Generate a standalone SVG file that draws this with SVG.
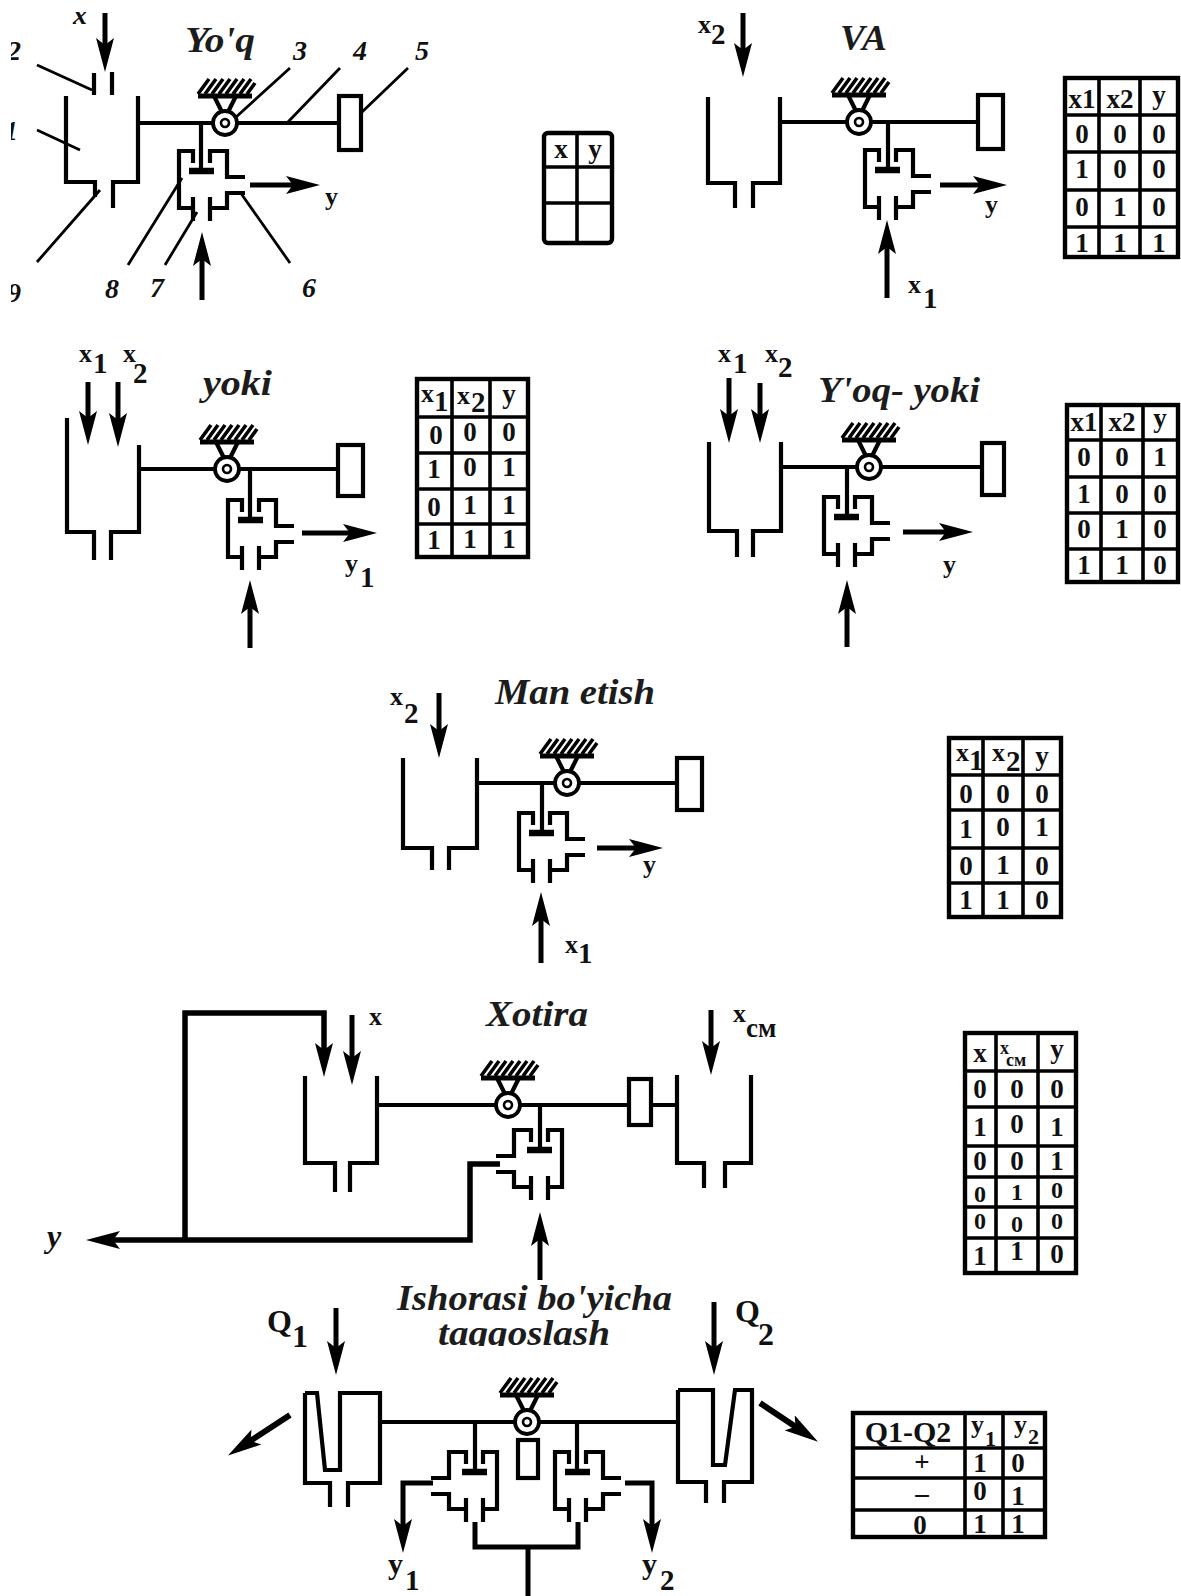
<svg xmlns="http://www.w3.org/2000/svg" width="1181" height="1596" viewBox="0 0 1181 1596">
<style>
.ln{fill:none;stroke:#000;stroke-width:4.2;stroke-linecap:butt;stroke-linejoin:miter}
.th{fill:none;stroke:#000;stroke-width:2.8}
.ar{fill:none;stroke:#000;stroke-width:5;marker-end:url(#head)}
.tb{fill:#fff;stroke:#000;stroke-width:4.4}
.tl{fill:none;stroke:#000;stroke-width:3.6}
.ti{font:italic bold 35px "Liberation Serif",serif;fill:#1c1c1c}
.n{font:italic bold 28px "Liberation Serif",serif;fill:#111}
.lb{font:bold 26px "Liberation Serif",serif;fill:#111}
.sb{font:bold 29px "Liberation Serif",serif;fill:#111}
.c{font:bold 27px "Liberation Serif",serif;fill:#111;text-anchor:middle}
</style>
<defs>
<marker id="head" markerUnits="userSpaceOnUse" markerWidth="34" markerHeight="20" viewBox="0 0 34 20" refX="22" refY="10" orient="auto">
<path d="M34,10 L0,1 L7,10 L0,19 Z" fill="#000"/>
</marker>
<g id="pivot">
<path class="ln" style="stroke-width:5" d="M-27,-27 H27"/>
<path class="th" style="stroke-width:3.6" d="M-27,-29 L-16,-44 M-20,-29 L-9,-44 M-13,-29 L-2,-44 M-6,-29 L5,-44 M1,-29 L12,-44 M8,-29 L19,-44 M15,-29 L26,-44 M22,-29 L30,-40"/>
<path class="ln" d="M-11,-27 L-3,-11 M11,-27 L3,-11"/>
<circle r="12" fill="#fff" stroke="#000" stroke-width="3.8"/>
<circle r="4" fill="#fff" stroke="#000" stroke-width="2.6"/>
</g>
<g id="valve">
<path class="ln" d="M-22,28 V0 H-8 V12 M9,12 V0 H26 V26 H44 M-22,28 V57 H-8 M-8,46 V70 M9,46 V70 M9,57 H26 V42 H44"/>
<path class="ln" style="stroke-width:6.5" d="M-12,20 H13"/>
</g>
</defs>
<rect width="1181" height="1596" fill="#fff"/>

<g id="yoq">
<path class="ln" d="M66,96 V182 H95 V197 M138,96 V182 H113 V208 M94,73 V95 M112,72 V95"/>
<path class="ln" d="M140,123 H245 M245,123 H339"/>
<rect class="ln" x="339" y="96" width="22" height="54"/>
<path class="ln" d="M201,123 V170"/>
<use href="#pivot" x="225" y="123"/>
<use href="#valve" x="201" y="151"/>
<text class="ti" x="185" y="52" textLength="70" lengthAdjust="spacingAndGlyphs">Yo'q</text>
<text class="n" x="7" y="60">2</text><text class="n" x="4" y="140">1</text><text class="n" x="7" y="302">9</text>
<text class="n" x="293" y="60">3</text><text class="n" x="353" y="60">4</text><text class="n" x="415" y="60">5</text>
<text class="n" x="302" y="297">6</text><text class="n" x="150" y="297">7</text><text class="n" x="105" y="298">8</text>
<text class="n" x="73" y="24">x</text>
<text class="lb" x="325" y="205">y</text>
</g>
<g id="table-yoq">
<rect class="tb" x="544" y="133" width="68" height="110" rx="4"/>
<path class="tl" d="M577,133 V243 M544,167 H612 M544,203 H612"/>
<text class="c" x="561" y="158">x</text><text class="c" x="595" y="158">y</text>
</g>

<g id="va">
<path class="ln" d="M708,97 V183 H735 V208 M780,97 V183 H753 V208"/>
<path class="ln" d="M782,122 H978"/>
<rect class="ln" x="978" y="95" width="25" height="54"/>
<path class="ln" d="M888,122 V170"/>
<use href="#pivot" x="859" y="122"/>
<use href="#valve" x="887" y="150"/>
<text class="ti" x="840" y="50" textLength="47" lengthAdjust="spacingAndGlyphs">VA</text>
<text class="lb" x="698" y="33">x<tspan class="sb" x="711" y="44">2</tspan></text>
<text class="lb" x="908" y="293">x<tspan class="sb" x="923" y="308">1</tspan></text>
<text class="lb" x="985" y="213">y</text>
</g>
<g id="table-va">
<rect class="tb" x="1065" y="78" width="113" height="179"/>
<path class="tl" d="M1099,78 V257 M1140,78 V257 M1065,115 H1178 M1065,152 H1178 M1065,190 H1178 M1065,227 H1178"/>
<text class="c" x="1082" y="108">x1</text><text class="c" x="1120" y="108">x2</text><text class="c" x="1159" y="104">y</text>
<text class="c" x="1082" y="143">0</text><text class="c" x="1120" y="143">0</text><text class="c" x="1159" y="143">0</text>
<text class="c" x="1082" y="178">1</text><text class="c" x="1120" y="178">0</text><text class="c" x="1159" y="178">0</text>
<text class="c" x="1082" y="216">0</text><text class="c" x="1120" y="216">1</text><text class="c" x="1159" y="216">0</text>
<text class="c" x="1082" y="252">1</text><text class="c" x="1120" y="252">1</text><text class="c" x="1159" y="252">1</text>
</g>

<g id="yoki">
<path class="ln" d="M67,418 V532 H94 V560 M139,445 V532 H111 V560"/>
<path class="ln" d="M141,469 H337"/>
<rect class="ln" x="338" y="445" width="25" height="51"/>
<path class="ln" d="M250,469 V518"/>
<use href="#pivot" x="227" y="469"/>
<use href="#valve" x="250" y="500"/>
<text class="ti" x="203" y="395" textLength="69" lengthAdjust="spacingAndGlyphs">yoki</text>
<text class="lb" x="79" y="362">x<tspan class="sb" x="93" y="373">1</tspan></text>
<text class="lb" x="123" y="362">x<tspan class="sb" x="133" y="383">2</tspan></text>
<text class="lb" x="345" y="572">y<tspan class="sb" x="360" y="587">1</tspan></text>
</g>
<g id="table-yoki">
<rect class="tb" x="417" y="379" width="111" height="178"/>
<path class="tl" d="M452,379 V557 M490,379 V557 M417,417 H528 M417,453 H528 M417,489 H528 M417,524 H528"/>
<text class="lb" x="421" y="402">x<tspan class="sb" x="434" y="411">1</tspan></text><text class="lb" x="457" y="404">x<tspan class="sb" x="471" y="412">2</tspan></text><text class="c" x="509" y="403">y</text>
<text class="c" x="436" y="444">0</text><text class="c" x="470" y="441">0</text><text class="c" x="509" y="441">0</text>
<text class="c" x="434" y="478">1</text><text class="c" x="470" y="476">0</text><text class="c" x="509" y="476">1</text>
<text class="c" x="434" y="516">0</text><text class="c" x="470" y="514">1</text><text class="c" x="509" y="514">1</text>
<text class="c" x="434" y="549">1</text><text class="c" x="470" y="548">1</text><text class="c" x="509" y="548">1</text>
</g>

<g id="yoq-yoki">
<path class="ln" d="M709,442 V531 H737 V557 M781,442 V531 H753 V557"/>
<path class="ln" d="M783,467 H981"/>
<rect class="ln" x="982" y="443" width="22" height="52"/>
<path class="ln" d="M847,467 V516"/>
<use href="#pivot" x="869" y="467"/>
<use href="#valve" x="846" y="497"/>
<text class="ti" x="818" y="402" textLength="162" lengthAdjust="spacingAndGlyphs">Y'oq- yoki</text>
<text class="lb" x="718" y="362">x<tspan class="sb" x="733" y="373">1</tspan></text>
<text class="lb" x="765" y="362">x<tspan class="sb" x="778" y="377">2</tspan></text>
<text class="lb" x="943" y="573">y</text>
</g>
<g id="table-yoq-yoki">
<rect class="tb" x="1067" y="405" width="111" height="177"/>
<path class="tl" d="M1101,405 V582 M1143,405 V582 M1067,440 H1178 M1067,477 H1178 M1067,513 H1178 M1067,549 H1178"/>
<text class="c" x="1084" y="431">x1</text><text class="c" x="1122" y="431">x2</text><text class="c" x="1160" y="427">y</text>
<text class="c" x="1084" y="466">0</text><text class="c" x="1122" y="466">0</text><text class="c" x="1160" y="466">1</text>
<text class="c" x="1084" y="503">1</text><text class="c" x="1122" y="503">0</text><text class="c" x="1160" y="503">0</text>
<text class="c" x="1084" y="538">0</text><text class="c" x="1122" y="538">1</text><text class="c" x="1160" y="538">0</text>
<text class="c" x="1084" y="574">1</text><text class="c" x="1122" y="574">1</text><text class="c" x="1160" y="574">0</text>
</g>

<g id="man-etish">
<path class="ln" d="M403,758 V848 H432 V870 M477,758 V848 H449 V870"/>
<path class="ln" d="M479,783 H677"/>
<rect class="ln" x="677" y="758" width="25" height="52"/>
<path class="ln" d="M542,783 V832"/>
<use href="#pivot" x="567" y="783"/>
<use href="#valve" x="541" y="813"/>
<text class="ti" x="495" y="704" textLength="160" lengthAdjust="spacingAndGlyphs">Man etish</text>
<text class="lb" x="390" y="705">x<tspan class="sb" x="404" y="723">2</tspan></text>
<text class="lb" x="565" y="953">x<tspan class="sb" x="578" y="963">1</tspan></text>
<text class="lb" x="643" y="873">y</text>
</g>
<g id="table-man-etish">
<rect class="tb" x="949" y="738" width="112" height="179"/>
<path class="tl" d="M983,738 V917 M1023,738 V917 M949,775 H1061 M949,810 H1061 M949,848 H1061 M949,883 H1061"/>
<text class="lb" x="956" y="761">x<tspan class="sb" x="969" y="770">1</tspan></text><text class="lb" x="992" y="761">x<tspan class="sb" x="1006" y="771">2</tspan></text><text class="c" x="1042" y="765">y</text>
<text class="c" x="966" y="803">0</text><text class="c" x="1003" y="803">0</text><text class="c" x="1042" y="803">0</text>
<text class="c" x="966" y="838">1</text><text class="c" x="1003" y="836">0</text><text class="c" x="1042" y="836">1</text>
<text class="c" x="966" y="875">0</text><text class="c" x="1003" y="874">1</text><text class="c" x="1042" y="875">0</text>
<text class="c" x="966" y="909">1</text><text class="c" x="1003" y="909">1</text><text class="c" x="1042" y="909">0</text>
</g>

<g id="xotira">
<path class="ln" d="M305,1076 V1163 H335 V1192 M377,1076 V1163 H350 V1192"/>
<path class="ln" d="M379,1105 H629"/>
<rect class="ln" x="629" y="1079" width="22" height="46"/>
<path class="ln" d="M651,1105 H676 M677,1075 V1163 H704 V1188 M751,1075 V1163 H725 V1188"/>
<path class="ln" d="M540,1105 V1150"/>
<use href="#pivot" x="508" y="1105"/>
<use href="#valve" transform="translate(540,1130) scale(-1,1)"/>
<text class="ti" x="486" y="1026" textLength="102" lengthAdjust="spacingAndGlyphs">Xotira</text>
<text class="lb" x="369" y="1025">x</text>
<text class="lb" x="733" y="1022">x<tspan style="font-size:27px" x="746" y="1037">см</tspan></text>
<text class="n" style="font-size:32px" x="47" y="1247">y</text>
</g>
<g id="table-xotira">
<rect class="tb" x="965" y="1033" width="111" height="240"/>
<path class="tl" d="M996,1033 V1273 M1038,1033 V1273 M965,1071 H1076 M965,1107 H1076 M965,1146 H1076 M965,1177 H1076 M965,1207 H1076 M965,1238 H1076"/>
<text class="c" x="980" y="1062">x</text><text class="lb" style="font-size:18px" x="1000" y="1054">x<tspan style="font-size:18px" x="1006" y="1066">см</tspan></text><text class="c" x="1057" y="1058">y</text>
<text class="c" x="980" y="1098">0</text><text class="c" x="1017" y="1098">0</text><text class="c" x="1057" y="1098">0</text>
<text class="c" x="980" y="1136">1</text><text class="c" x="1017" y="1133">0</text><text class="c" x="1057" y="1136">1</text>
<text class="c" x="980" y="1170">0</text><text class="c" x="1017" y="1170">0</text><text class="c" x="1057" y="1170">1</text>
<text class="c" style="font-size:24px" x="980" y="1202">0</text><text class="c" style="font-size:24px" x="1017" y="1200">1</text><text class="c" style="font-size:24px" x="1057" y="1198">0</text>
<text class="c" style="font-size:24px" x="980" y="1229">0</text><text class="c" style="font-size:24px" x="1017" y="1232">0</text><text class="c" style="font-size:24px" x="1057" y="1229">0</text>
<text class="c" x="980" y="1265">1</text><text class="c" x="1017" y="1260">1</text><text class="c" x="1057" y="1263">0</text>
</g>

<g id="taqqoslash">
<path class="ln" d="M305,1393 H317 L325,1470 H340 V1393 H380 V1483 H348 V1507 M305,1393 V1483 H330 V1507"/>
<path class="ln" d="M678,1390 H713 V1465 H725 L735,1390 H752 V1482 H724 V1503 M678,1390 V1482 H706 V1503"/>
<path class="ln" d="M380,1422 H678"/>
<path class="ln" d="M475,1422 V1472 M577,1422 V1472"/>
<rect class="ln" x="518" y="1440" width="20" height="38"/>
<use href="#pivot" x="527" y="1422"/>
<use href="#valve" transform="translate(475,1452) scale(-1,1)"/>
<use href="#valve" x="577" y="1452"/>
<path class="ln" style="stroke-width:5" d="M475,1522 V1547 H578 V1522 M528,1547 V1596"/>
<text class="ti" x="397" y="1310" textLength="275" lengthAdjust="spacingAndGlyphs">Ishorasi bo'yicha</text>
<text class="ti" x="438" y="1345" textLength="172" lengthAdjust="spacingAndGlyphs">taqqoslash</text>
<rect x="430" y="1346" width="190" height="12" fill="#fff"/>
<text class="sb" style="font-size:32px" x="267" y="1332">Q<tspan x="292" y="1347">1</tspan></text>
<text class="sb" style="font-size:32px" x="735" y="1322">Q<tspan x="758" y="1345">2</tspan></text>
<text class="lb" style="font-size:30px" x="388" y="1574">y<tspan class="sb" x="405" y="1590">1</tspan></text>
<text class="lb" style="font-size:30px" x="642" y="1574">y<tspan class="sb" x="660" y="1590">2</tspan></text>
</g>
<g id="table-taqqoslash">
<rect class="tb" x="853" y="1413" width="192" height="124"/>
<path class="tl" d="M965,1413 V1537 M1003,1413 V1537 M853,1448 H1045 M853,1478 H1045 M853,1510 H1045"/>
<text class="c" style="font-size:30px" x="908" y="1442">Q1-Q2</text>
<text class="lb" x="971" y="1433">y<tspan class="sb" style="font-size:22px" x="985" y="1446">1</tspan></text>
<text class="lb" x="1014" y="1433">y<tspan class="sb" style="font-size:22px" x="1028" y="1444">2</tspan></text>
<text class="c" x="922" y="1471">+</text><text class="c" x="922" y="1502">–</text><text class="c" x="920" y="1534">0</text>
<text class="c" x="980" y="1472">1</text><text class="c" x="1018" y="1472">0</text>
<text class="c" x="980" y="1500">0</text><text class="c" x="1018" y="1505">1</text>
<text class="c" x="980" y="1533">1</text><text class="c" x="1018" y="1533">1</text>
</g>

<g id="connectors">
<path class="th" d="M37,65 L92,90 M37,130 L80,150 M37,262 L100,190 M128,265 L182,178 M165,265 L197,212 M290,263 L240,192 M290,68 L235,118 M340,68 L288,122 M408,68 L362,112"/>
<path class="ar" d="M105,13 V60"/>
<path class="ar" d="M202,300 V244"/>
<path class="ar" d="M250,185 H308"/>
<path class="ar" d="M743,13 V65"/>
<path class="ar" d="M887,298 V232"/>
<path class="ar" d="M940,185 H995"/>
<path class="ar" d="M88,382 V433"/>
<path class="ar" d="M118,382 V435"/>
<path class="ar" d="M250,648 V592"/>
<path class="ar" d="M302,533 H365"/>
<path class="ar" d="M729,378 V431"/>
<path class="ar" d="M760,383 V431"/>
<path class="ar" d="M847,647 V592"/>
<path class="ar" d="M903,532 H961"/>
<path class="ar" d="M439,693 V746"/>
<path class="ar" d="M541,963 V904"/>
<path class="ar" d="M597,848 H651"/>
<path class="ar" d="M352,1015 V1073"/>
<path class="ar" d="M711,1010 V1063"/>
<path class="ar" d="M540,1280 V1224"/>
<path class="ar" style="stroke-width:5.5" d="M500,1164 H470 V1240 H98"/>
<path class="ar" style="stroke-width:5.5" d="M185,1240 V1013 H324 V1065"/>
<path class="ar" d="M336,1308 V1363"/>
<path class="ar" d="M714,1302 V1363"/>
<path class="ar" style="stroke-width:6" d="M290,1415 L238,1449"/>
<path class="ar" style="stroke-width:6" d="M760,1403 L808,1435"/>
<path class="ar" d="M433,1483 H403 V1541"/>
<path class="ar" d="M625,1483 H652 V1541"/>
</g>
<rect x="0" y="0" width="11" height="320" fill="#fff"/>
<rect x="0" y="0" width="1181" height="12" fill="#fff"/>
</svg>
